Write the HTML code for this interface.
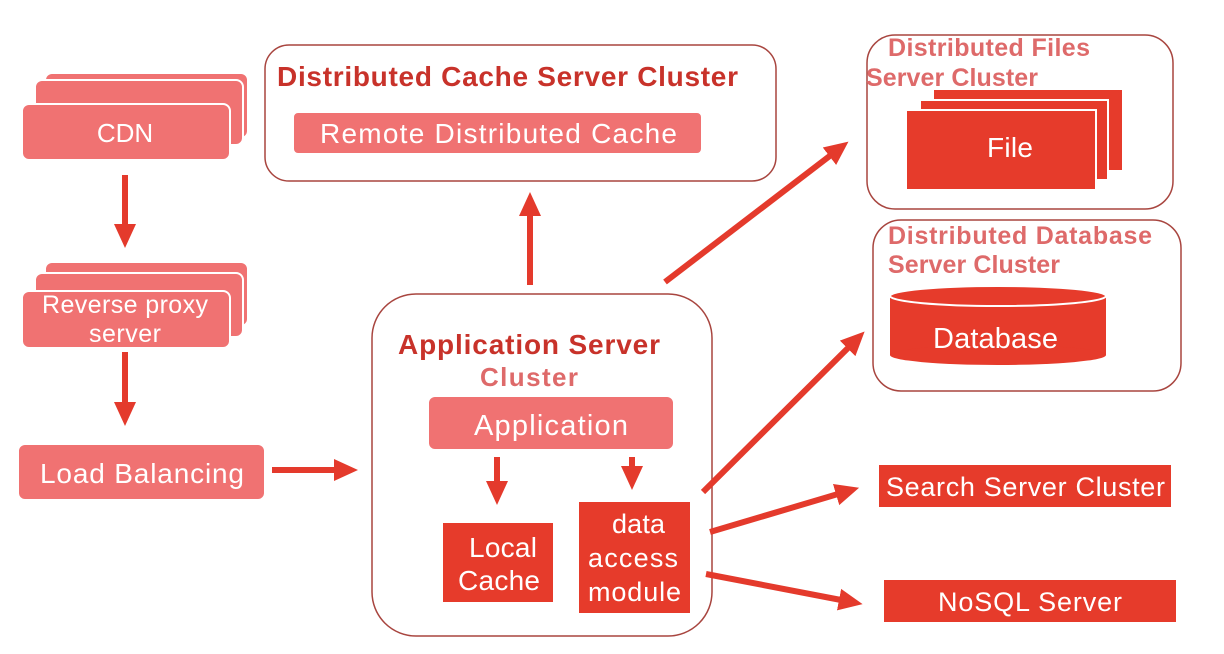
<!DOCTYPE html>
<html><head><meta charset="utf-8"><style>
html,body{margin:0;padding:0;background:#fff;}
svg{display:block;}
text{font-family:"Liberation Sans",sans-serif;}
.w{fill:#fff;font-size:28px;}
.t{font-weight:bold;fill:#c8322a;font-size:28px;}
.p{font-weight:bold;fill:#de6a6a;font-size:25px;}
</style></head><body>
<svg width="1224" height="654" viewBox="0 0 1224 654">
<defs>
<marker id="a" markerUnits="userSpaceOnUse" markerWidth="26" markerHeight="26" refX="2" refY="13" orient="auto">
<path d="M0,2 L24,13 L0,24 Z" fill="#e43a2c"/></marker>
</defs>
<g stroke="#a8453f" stroke-width="1.5" fill="none">
<rect x="265" y="45" width="511" height="136" rx="24"/>
<rect x="372" y="294" width="340" height="342" rx="44"/>
<rect x="867" y="35" width="306" height="174" rx="28"/>
<rect x="873" y="220" width="308" height="171" rx="28"/>
</g>
<g fill="#f07272" stroke="#fff" stroke-width="2">
<rect x="45" y="73" width="203" height="65" rx="7"/>
<rect x="35" y="80" width="208" height="65" rx="7"/>
<rect x="22" y="104" width="208" height="56" rx="7"/>
<rect x="45" y="262" width="203" height="64" rx="7"/>
<rect x="35" y="273" width="208" height="64" rx="7"/>
<rect x="22" y="291" width="208" height="57" rx="7"/>
<rect x="18" y="444" width="247" height="56" rx="7"/>
<rect x="293" y="112" width="409" height="42" rx="5"/>
<rect x="428" y="396" width="246" height="54" rx="7"/>
</g>
<text class="w" x="125" y="142" style="font-size:26px" text-anchor="middle">CDN</text>
<text class="w" x="42" y="313" style="font-size:25px" textLength="166">Reverse proxy</text>
<text class="w" x="89" y="342" style="font-size:25px" textLength="72">server</text>
<text class="w" x="40" y="483" textLength="204">Load Balancing</text>
<text class="t" x="277" y="86" textLength="461">Distributed Cache Server Cluster</text>
<text class="w" x="320" y="143" textLength="357">Remote Distributed Cache</text>
<text class="t" x="398" y="354" textLength="262">Application Server</text>
<text class="p" x="480" y="386" style="font-size:26px" textLength="98">Cluster</text>
<text class="w" x="474" y="435" style="font-size:29px" textLength="154">Application</text>
<g fill="#e63b2b">
<rect x="443" y="523" width="110" height="79"/>
<rect x="579" y="502" width="111" height="111"/>
<rect x="934" y="90" width="188" height="80"/>
<rect x="920" y="100" width="188" height="80" stroke="#fff" stroke-width="2"/>
<rect x="906" y="110" width="190" height="80" stroke="#fff" stroke-width="2"/>
<rect x="890" y="296" width="216" height="59"/>
<rect x="879" y="465" width="292" height="42"/>
<rect x="884" y="580" width="292" height="42"/>
</g>
<ellipse cx="998" cy="355" rx="108" ry="10" fill="#e63b2b"/>
<ellipse cx="998" cy="296" rx="108" ry="10" fill="#e63b2b" stroke="#fff" stroke-width="2"/>
<text class="w" x="469" y="557" textLength="68">Local</text>
<text class="w" x="458" y="590" textLength="82">Cache</text>
<text class="w" x="612" y="533" style="font-size:27px" textLength="53">data</text>
<text class="w" x="588" y="567" style="font-size:27px" textLength="90">access</text>
<text class="w" x="588" y="601" style="font-size:27px" textLength="93">module</text>
<text class="w" x="987" y="157" textLength="46">File</text>
<text class="w" x="933" y="348" style="font-size:29px" textLength="125">Database</text>
<text class="w" x="886" y="496" style="font-size:27px" textLength="279">Search Server Cluster</text>
<text class="w" x="938" y="611" style="font-size:27px" textLength="184">NoSQL Server</text>
<text class="p" x="888" y="56" textLength="202">Distributed Files</text>
<text class="p" x="866" y="86" textLength="172">Server Cluster</text>
<text class="p" x="888" y="244" textLength="264">Distributed Database</text>
<text class="p" x="888" y="273" textLength="172">Server Cluster</text>
<g stroke="#e43a2c" stroke-width="6" marker-end="url(#a)">
<line x1="125" y1="175" x2="125" y2="226"/>
<line x1="125" y1="352" x2="125" y2="404"/>
<line x1="272" y1="470" x2="336" y2="470"/>
<line x1="530" y1="285" x2="530" y2="214"/>
<line x1="497" y1="457" x2="497" y2="483"/>
<line x1="632" y1="457" x2="632" y2="468"/>
<line x1="665" y1="282" x2="831" y2="155"/>
<line x1="703" y1="492" x2="849" y2="347"/>
<line x1="710" y1="532" x2="838" y2="494"/>
<line x1="706" y1="574" x2="841" y2="600"/>
</g>
</svg>
</body></html>
